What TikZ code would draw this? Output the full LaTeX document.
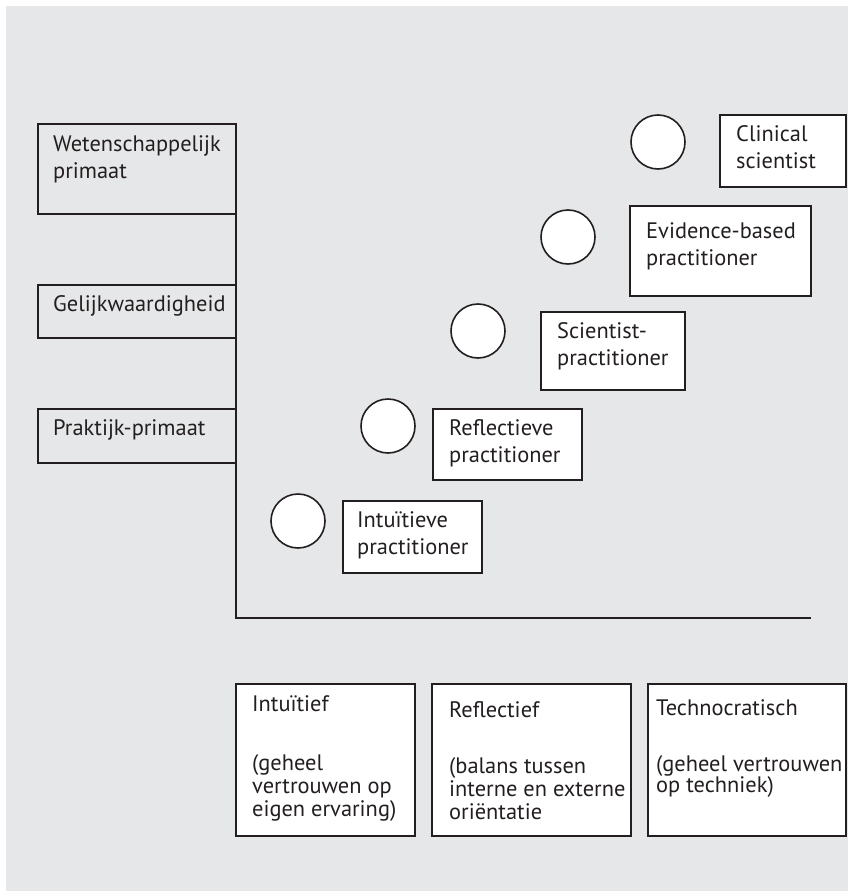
\documentclass[tikz,border=0pt]{standalone}
\usepackage{fontspec}
\setmainfont{PT Sans}
\definecolor{bg}{HTML}{E6E7E8}
\definecolor{ink}{HTML}{231F20}
\begin{document}
\begin{tikzpicture}[x=1pt,y=-1pt,
  box/.style={draw=ink, line width=1.6pt, fill=white, anchor=north west, inner sep=0pt, outer sep=0pt},
  lbox/.style={box, fill=none},
  txt/.style={anchor=north west, inner sep=0pt, align=left, text=ink, font=\fontsize{22.4}{27}\selectfont},
  btxt/.style={txt, font=\fontsize{22.4}{23}\selectfont},
  dot/.style={circle, draw=ink, line width=1.6pt, fill=white, minimum size=54pt, inner sep=0pt},
  axis/.style={draw=ink, line width=1.6pt}]
\useasboundingbox (0,0) rectangle (848,891);
\fill[bg] (6,6) rectangle (848,891);

% left category boxes
\node[lbox, minimum width=198pt, minimum height=90pt] (wp) at (38,124) {};
\node[txt] (wpt) at ([xshift=15pt,yshift=-8pt]wp.north west) {\strut Wetenschappelijk\\primaat};
\node[lbox, minimum width=198pt, minimum height=53pt] (gw) at (38,285) {};
\node[txt] (gwt) at ([xshift=15pt,yshift=-7pt]gw.north west) {\strut Gelijkwaardigheid};
\node[lbox, minimum width=198pt, minimum height=54pt] (pp) at (38,409) {};
\node[txt] (ppt) at ([xshift=15pt,yshift=-7pt]pp.north west) {\strut Praktijk-primaat};

% axes
\coordinate (ax0) at (236,124);
\coordinate (axc) at (236,618);
\coordinate (axe) at (811,618);
\draw[axis] (ax0) -- (axc) -- (axe);

% circles
\node[dot] (c1) at (298,521) {};
\node[dot] (c2) at (388,426) {};
\node[dot] (c3) at (478,331) {};
\node[dot] (c4) at (568,237) {};
\node[dot] (c5) at (658,142) {};

% practitioner boxes
\node[box, minimum width=139pt, minimum height=72pt] (ip) at (343,501) {};
\node[txt] (ipt) at ([xshift=14pt,yshift=-7pt]ip.north west) {\strut Intuïtieve\\practitioner};
\node[box, minimum width=149pt, minimum height=71pt] (rp) at (433,409) {};
\node[txt] (rpt) at ([xshift=16pt,yshift=-7pt]rp.north west) {\strut Reflectieve\\practitioner};
\node[box, minimum width=144pt, minimum height=78pt] (sp) at (541,312) {};
\node[txt] (spt) at ([xshift=16pt,yshift=-7pt]sp.north west) {\strut Scientist-\\practitioner};
\node[box, minimum width=181pt, minimum height=90pt] (ep) at (630,206) {};
\node[txt] (ept) at ([xshift=16pt,yshift=-13pt]ep.north west) {\strut Evidence-based\\practitioner};
\node[box, minimum width=126pt, minimum height=72pt] (cs) at (720,115) {};
\node[txt] (cst) at ([xshift=16pt,yshift=-7pt]cs.north west) {\strut Clinical\\scientist};

% bottom boxes
\node[box, minimum width=179pt, minimum height=152pt] (bi) at (236,684) {};
\node[btxt] (bit) at ([xshift=16pt,yshift=-11.5pt]bi.north west) {\strut Intuïtief\\[36pt](geheel\\vertrouwen op\\eigen ervaring)};
\node[box, minimum width=199pt, minimum height=152pt] (br) at (432,684) {};
\node[btxt] (brt) at ([xshift=17pt,yshift=-17.5pt]br.north west) {\strut Reflectief\\[33pt](balans tussen\\interne en externe\\oriëntatie};
\node[box, minimum width=198pt, minimum height=152pt] (bt) at (648,684) {};
\node[btxt] (btt) at ([xshift=8pt,yshift=-15.5pt]bt.north west) {\strut Technocratisch\\[33pt](geheel vertrouwen\\[-2pt]op techniek)};
\end{tikzpicture}
\end{document}
